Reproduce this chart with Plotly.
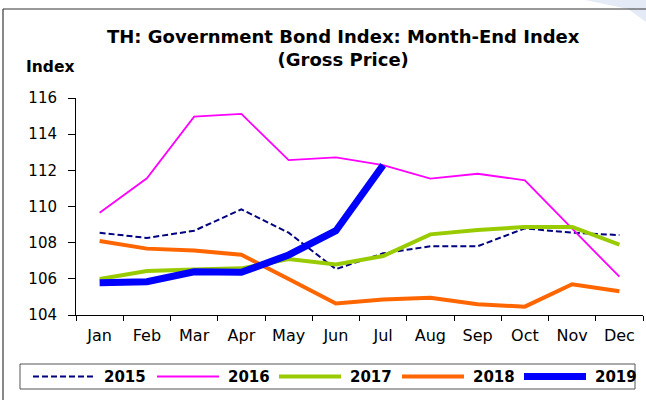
import plotly.graph_objects as go

# Month-end index values (gross price)
months = ["Jan", "Feb", "Mar", "Apr", "May", "Jun", "Jul", "Aug", "Sep", "Oct", "Nov", "Dec"]
idx_2015 = [108.55, 108.26, 108.66, 109.84, 108.55, 106.54, 107.41, 107.80, 107.80, 108.79, 108.55, 108.42]
idx_2016 = [109.66, 111.56, 114.97, 115.12, 112.57, 112.72, 112.29, 111.54, 111.81, 111.45, 108.77, 106.12]
idx_2017 = [105.99, 106.43, 106.52, 106.58, 107.10, 106.80, 107.26, 108.46, 108.70, 108.87, 108.87, 107.89]
idx_2018 = [108.09, 107.67, 107.56, 107.33, 105.99, 104.64, 104.86, 104.95, 104.60, 104.46, 105.70, 105.31]
idx_2019 = [105.79, 105.84, 106.39, 106.36, 107.32, 108.66, 112.29]
y_ticks = [104, 106, 108, 110, 112, 114, 116]

series = [
    ("2015", idx_2015, dict(color="#000080", width=2, dash="6px,3px")),
    ("2016", idx_2016, dict(color="#FF00FF", width=1.8)),
    ("2017", idx_2017, dict(color="#99CC00", width=4)),
    ("2018", idx_2018, dict(color="#FF6600", width=4)),
    ("2019", idx_2019, dict(color="#0000FF", width=7)),
]

W, H = 646, 400
L, R, T, B = 76, 3, 98, 85
PW, PH = W - L - R, H - T - B


def px(x):
    return (x - L) / PW


def py(y):
    return (H - B - y) / PH


FONT = "DejaVu Sans"

fig = go.Figure()
for name, vals, line in series:
    fig.add_trace(go.Scatter(
        x=months[:len(vals)], y=vals, name=name, mode="lines",
        line=dict(line, shape="linear"), showlegend=False,
    ))

shapes = []
annotations = []

# pale backdrop swoosh in the top-right corner
shapes.append(dict(type="path", xref="paper", yref="paper",
                   path="M %f,%f L %f,%f L %f,%f L %f,%f Z" % (
                       px(585), py(0), px(646), py(0), px(646), py(22), px(628), py(9)),
                   line=dict(width=0), fillcolor="rgba(205,218,238,0.55)", layer="below"))

# outer frame (left and top edges)
shapes.append(dict(type="line", xref="paper", yref="paper",
                   x0=px(3), x1=px(3), y0=py(9), y1=py(400),
                   line=dict(color="#888888", width=2)))
shapes.append(dict(type="line", xref="paper", yref="paper",
                   x0=px(3), x1=px(646), y0=py(9), y1=py(9),
                   line=dict(color="#333333", width=1)))

# legend box and entries
shapes.append(dict(type="rect", xref="paper", yref="paper",
                   x0=px(20), x1=px(635), y0=py(364), y1=py(389),
                   line=dict(color="#555555", width=1), fillcolor="rgba(0,0,0,0)"))
entry_x = [33, 157, 279, 402, 524]
for (name, vals, line), x0 in zip(series, entry_x):
    shapes.append(dict(type="line", xref="paper", yref="paper",
                       x0=px(x0), x1=px(x0 + 62), y0=py(376.5), y1=py(376.5),
                       line=dict(color=line["color"], width=line["width"],
                                 dash=line.get("dash", "solid"))))
    annotations.append(dict(xref="paper", yref="paper", x=px(x0 + 69), y=py(376.5),
                            text="<b>%s</b>" % name, showarrow=False,
                            xanchor="left", yanchor="middle",
                            font=dict(family=FONT, size=15, color="black")))

annotations.append(dict(xref="paper", yref="paper", x=px(343), y=py(48),
                        text="<b>TH: Government Bond Index: Month-End Index<br>(Gross Price)</b>",
                        showarrow=False, xanchor="center", yanchor="middle",
                        font=dict(family=FONT, size=18, color="black")))
annotations.append(dict(xref="paper", yref="paper", x=px(24), y=py(67),
                        text="<b>Index</b>", showarrow=False,
                        xanchor="left", yanchor="middle",
                        font=dict(family=FONT, size=15.5, color="black")))

fig.update_layout(
    width=W, height=H,
    margin=dict(l=L, r=R, t=T, b=B, pad=0),
    paper_bgcolor="white", plot_bgcolor="white",
    shapes=shapes, annotations=annotations,
    showlegend=False,
    font=dict(family=FONT, size=15, color="black"),
)
fig.update_xaxes(
    type="category", categoryorder="array", categoryarray=months,
    range=[-0.5, 11.5], showgrid=False, zeroline=False,
    showline=True, linecolor="black", linewidth=1,
    ticks="outside", tickson="boundaries", ticklen=5, tickcolor="black",
    ticklabelstandoff=6,
    tickfont=dict(family=FONT, size=16, color="black"),
)
fig.update_yaxes(
    range=[104, 116], tickvals=y_ticks, showgrid=False, zeroline=False,
    showline=True, linecolor="black", linewidth=1,
    ticks="outside", ticklen=7, tickcolor="black",
    ticklabelstandoff=8,
    tickfont=dict(family=FONT, size=15, color="black"),
)

fig.write_html("out.html")
